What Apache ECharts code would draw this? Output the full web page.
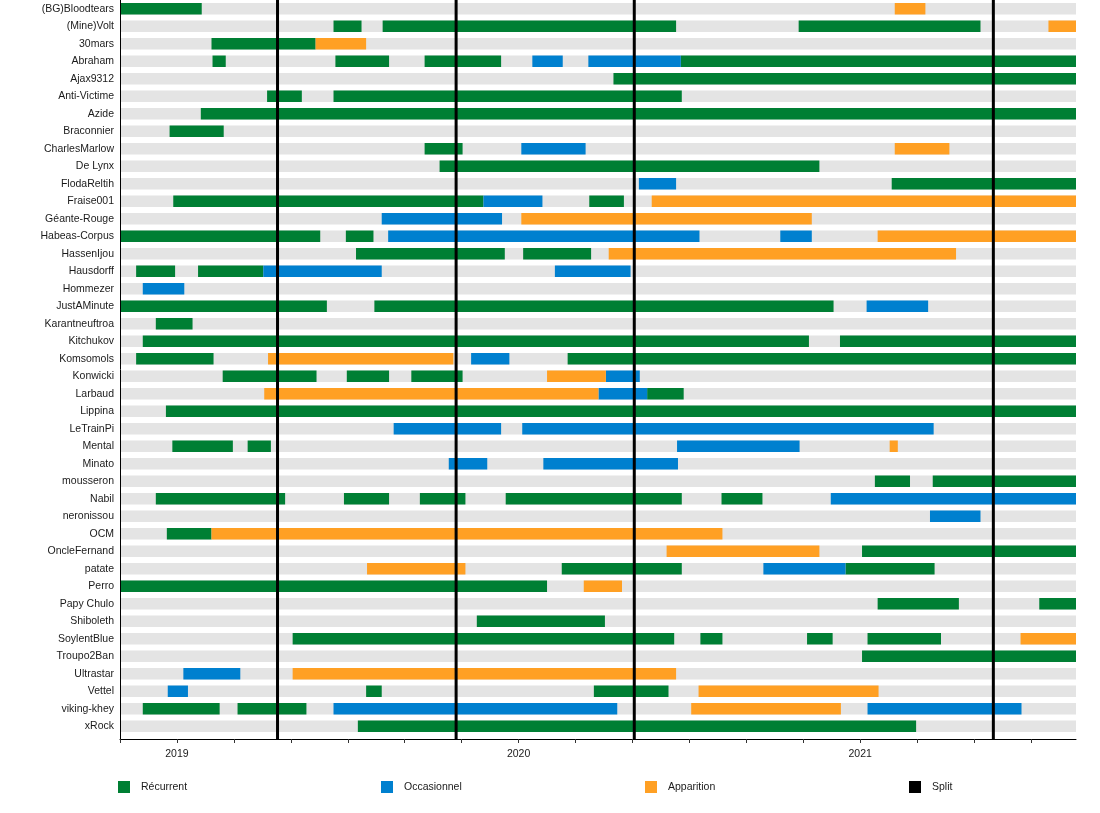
<!DOCTYPE html>
<html>
<head>
<meta charset="utf-8">
<script src="https://cdn.jsdelivr.net/npm/echarts@6/dist/echarts.min.js"></script>
<style>
  html, body { margin: 0; padding: 0; background: #fff; }
  #chart { width: 1100px; height: 813px; }
</style>
</head>
<body>
<div id="chart"></div>
<script>
// ---------------- DATA ----------------
const START = '2018-11-01';
const END = '2021-08-19';

const names = [
  '(BG)Bloodtears', '(Mine)Volt', '30mars', 'Abraham', 'Ajax9312', 'Anti-Victime', 'Azide',
  'Braconnier', 'CharlesMarlow', 'De Lynx', 'FlodaReltih', 'Fraise001', 'Géante-Rouge',
  'Habeas-Corpus', 'HassenIjou', 'Hausdorff', 'Hommezer', 'JustAMinute', 'Karantneuftroa',
  'Kitchukov', 'Komsomols', 'Konwicki', 'Larbaud', 'Lippina', 'LeTrainPi', 'Mental', 'Minato',
  'mousseron', 'Nabil', 'neronissou', 'OCM', 'OncleFernand', 'patate', 'Perro', 'Papy Chulo',
  'Shiboleth', 'SoylentBlue', 'Troupo2Ban', 'Ultrastar', 'Vettel', 'viking-khey', 'xRock'
];

const recurrent = [
  ['(BG)Bloodtears', '2018-11-01', '2019-01-28'],
  ['(Mine)Volt', '2019-06-16', '2019-07-16'],
  ['(Mine)Volt', '2019-08-08', '2020-06-17'],
  ['(Mine)Volt', '2020-10-27', '2021-05-08'],
  ['30mars', '2019-02-07', '2019-05-28'],
  ['Abraham', '2019-02-08', '2019-02-21'],
  ['Abraham', '2019-06-18', '2019-08-15'],
  ['Abraham', '2019-09-22', '2019-12-13'],
  ['Abraham', '2020-06-22', END],
  ['Ajax9312', '2020-04-11', END],
  ['Anti-Victime', '2019-04-06', '2019-05-13'],
  ['Anti-Victime', '2019-06-16', '2020-06-23'],
  ['Azide', '2019-01-27', END],
  ['Braconnier', '2018-12-24', '2019-02-19'],
  ['CharlesMarlow', '2019-09-22', '2019-11-02'],
  ['De Lynx', '2019-10-08', '2020-11-18'],
  ['FlodaReltih', '2021-02-04', END],
  ['Fraise001', '2018-12-28', '2019-11-24'],
  ['Fraise001', '2020-03-16', '2020-04-22'],
  ['Habeas-Corpus', '2018-11-01', '2019-06-02'],
  ['Habeas-Corpus', '2019-06-29', '2019-07-29'],
  ['HassenIjou', '2019-07-10', '2019-12-17'],
  ['HassenIjou', '2020-01-06', '2020-03-18'],
  ['Hausdorff', '2018-11-18', '2018-12-30'],
  ['Hausdorff', '2019-01-24', '2019-04-02'],
  ['JustAMinute', '2018-11-01', '2019-06-09'],
  ['JustAMinute', '2019-07-30', '2020-12-03'],
  ['Karantneuftroa', '2018-12-09', '2019-01-18'],
  ['Kitchukov', '2018-11-25', '2020-11-07'],
  ['Kitchukov', '2020-12-10', END],
  ['Komsomols', '2018-11-18', '2019-02-09'],
  ['Komsomols', '2020-02-22', END],
  ['Konwicki', '2019-02-18', '2019-05-29'],
  ['Konwicki', '2019-06-30', '2019-08-15'],
  ['Konwicki', '2019-09-08', '2019-11-02'],
  ['Larbaud', '2020-05-17', '2020-06-25'],
  ['Lippina', '2018-12-20', END],
  ['Mental', '2018-12-27', '2019-02-28'],
  ['Mental', '2019-03-16', '2019-04-10'],
  ['mousseron', '2021-01-17', '2021-02-22'],
  ['mousseron', '2021-03-18', END],
  ['Nabil', '2018-12-09', '2019-04-25'],
  ['Nabil', '2019-06-27', '2019-08-15'],
  ['Nabil', '2019-09-17', '2019-11-05'],
  ['Nabil', '2019-12-18', '2020-06-23'],
  ['Nabil', '2020-08-05', '2020-09-18'],
  ['OCM', '2018-12-21', '2019-02-07'],
  ['OncleFernand', '2021-01-03', END],
  ['patate', '2020-02-16', '2020-06-23'],
  ['patate', '2020-12-16', '2021-03-20'],
  ['Perro', '2018-11-01', '2020-02-01'],
  ['Papy Chulo', '2021-01-20', '2021-04-15'],
  ['Papy Chulo', '2021-07-10', END],
  ['Shiboleth', '2019-11-17', '2020-04-02'],
  ['SoylentBlue', '2019-05-03', '2020-06-15'],
  ['SoylentBlue', '2020-07-13', '2020-08-06'],
  ['SoylentBlue', '2020-11-05', '2020-12-02'],
  ['SoylentBlue', '2021-01-09', '2021-03-27'],
  ['Troupo2Ban', '2021-01-03', END],
  ['Vettel', '2019-07-21', '2019-08-07'],
  ['Vettel', '2020-03-21', '2020-06-09'],
  ['viking-khey', '2018-11-25', '2019-02-15'],
  ['viking-khey', '2019-03-05', '2019-05-18'],
  ['xRock', '2019-07-12', '2021-02-28']
];

const occasional = [
  ['Abraham', '2020-01-16', '2020-02-17'],
  ['Abraham', '2020-03-15', '2020-06-22'],
  ['CharlesMarlow', '2020-01-04', '2020-03-12'],
  ['FlodaReltih', '2020-05-08', '2020-06-17'],
  ['Fraise001', '2019-11-24', '2020-01-27'],
  ['Géante-Rouge', '2019-08-07', '2019-12-14'],
  ['Habeas-Corpus', '2019-08-14', '2020-07-12'],
  ['Habeas-Corpus', '2020-10-07', '2020-11-10'],
  ['Hausdorff', '2019-04-02', '2019-08-07'],
  ['Hausdorff', '2020-02-09', '2020-04-29'],
  ['Hommezer', '2018-11-25', '2019-01-09'],
  ['JustAMinute', '2021-01-08', '2021-03-13'],
  ['Komsomols', '2019-11-11', '2019-12-22'],
  ['Konwicki', '2020-04-03', '2020-05-09'],
  ['Larbaud', '2020-03-26', '2020-05-17'],
  ['LeTrainPi', '2019-08-20', '2019-12-13'],
  ['LeTrainPi', '2020-01-05', '2021-03-19'],
  ['Mental', '2020-06-18', '2020-10-28'],
  ['Minato', '2019-10-18', '2019-11-28'],
  ['Minato', '2020-01-28', '2020-06-19'],
  ['Nabil', '2020-11-30', END],
  ['neronissou', '2021-03-15', '2021-05-08'],
  ['patate', '2020-09-19', '2020-12-16'],
  ['Ultrastar', '2019-01-08', '2019-03-08'],
  ['Vettel', '2018-12-22', '2019-01-13'],
  ['viking-khey', '2019-06-16', '2020-04-15'],
  ['viking-khey', '2021-01-09', '2021-06-21']
];

const apparition = [
  ['(BG)Bloodtears', '2021-02-07', '2021-03-10'],
  ['(Mine)Volt', '2021-07-20', END],
  ['30mars', '2019-05-28', '2019-07-21'],
  ['CharlesMarlow', '2021-02-07', '2021-04-05'],
  ['Fraise001', '2020-05-22', END],
  ['Géante-Rouge', '2020-01-04', '2020-11-10'],
  ['Habeas-Corpus', '2021-01-20', END],
  ['HassenIjou', '2020-04-06', '2021-04-12'],
  ['Komsomols', '2019-04-07', '2019-10-23'],
  ['Konwicki', '2020-02-01', '2020-04-03'],
  ['Larbaud', '2019-04-03', '2020-03-26'],
  ['Mental', '2021-02-02', '2021-02-10'],
  ['OCM', '2019-02-07', '2020-08-06'],
  ['OncleFernand', '2020-06-07', '2020-11-18'],
  ['patate', '2019-07-22', '2019-11-05'],
  ['Perro', '2020-03-10', '2020-04-20'],
  ['SoylentBlue', '2021-06-20', END],
  ['Ultrastar', '2019-05-03', '2020-06-17'],
  ['Vettel', '2020-07-11', '2021-01-21'],
  ['viking-khey', '2020-07-03', '2020-12-11']
];

const splits = ['2019-04-17', '2019-10-26', '2020-05-03', '2021-05-22'];

const yearLabels = ['2019', '2020', '2021'];

// ---------------- HELPERS ----------------
// date -> fractional months since 2018-01-01
function M(s) {
  const [y, m, d] = s.split('-').map(Number);
  const dim = new Date(y, m, 0).getDate();
  return (y - 2018) * 12 + (m - 1) + (d - 1) / dim;
}
const xMin = M(START), xMax = M(END);
const yearVals = yearLabels.map(y => M(y + '-01-01'));
const tickVals = [];
for (let v = xMin; v <= xMax + 1e-9; v += 2) tickVals.push(v);

const FONT = 'Liberation Sans, Arial, Helvetica, sans-serif';
const COLORS = { rec: '#007f34', occ: '#0080cf', app: '#ffa024', bg: '#e4e4e4', split: '#000000' };

function toData(arr) { return arr.map(r => [M(r[1]), M(r[2]), r[0]]); }

function barRender(params, api) {
  const s = api.coord([api.value(0), api.value(2)]);
  const e = api.coord([api.value(1), api.value(2)]);
  const h = api.size([0, 1])[1] * 0.655;
  return {
    type: 'rect',
    shape: echarts.graphic.clipRectByRect(
      { x: s[0], y: s[1] - h / 2, width: e[0] - s[0], height: h },
      { x: params.coordSys.x, y: params.coordSys.y, width: params.coordSys.width, height: params.coordSys.height }
    ),
    style: { fill: api.visual('color') }
  };
}

function splitRender(params, api) {
  const a = api.coord([api.value(0), 0]);
  const b = api.coord([api.value(0), 1]);
  return {
    type: 'line',
    shape: { x1: a[0], y1: a[1], x2: b[0], y2: b[1] },
    style: { stroke: '#000', lineWidth: 3 }
  };
}

const chart = echarts.init(document.getElementById('chart'), null, { renderer: 'canvas' });

const legendBase = (name, left) => ({
  data: [{ name: name, icon: 'rect' }],
  left: left, top: 781, padding: 0,
  itemWidth: 12, itemHeight: 12, selectedMode: false,
  textStyle: { fontFamily: FONT, fontSize: 10.5, color: '#1a1a1a', padding: [0, 0, 0, 6] }
});

chart.setOption({
  animation: false,
  backgroundColor: '#ffffff',
  textStyle: { fontFamily: FONT },
  legend: [
    legendBase('Récurrent', 118),
    legendBase('Occasionnel', 381),
    legendBase('Apparition', 645),
    legendBase('Split', 909)
  ],
  grid: [
    { left: 120, right: 24, top: -2, height: 737, containLabel: false },
    { left: 120, right: 24, top: 0, height: 739, containLabel: false }
  ],
  xAxis: [
    {
      gridIndex: 0, type: 'value', min: xMin, max: xMax, show: false
    },
    {
      gridIndex: 1, type: 'value', min: xMin, max: xMax, z: 10,
      axisLine: { show: true, lineStyle: { color: '#000', width: 1 } },
      axisTick: { show: true, length: 4, customValues: tickVals, lineStyle: { color: '#333' } },
      axisLabel: {
        show: true, customValues: yearVals, margin: 10,
        fontFamily: FONT, fontSize: 10.5, color: '#1a1a1a',
        formatter: v => String(2018 + Math.round(v / 12))
      },
      splitLine: { show: false }
    }
  ],
  yAxis: [
    {
      gridIndex: 0, type: 'category', data: names, inverse: true,
      axisLine: { show: false }, axisTick: { show: false },
      axisLabel: { interval: 0, margin: 6, fontFamily: FONT, fontSize: 10.5, color: '#1a1a1a' },
      splitLine: { show: false }
    },
    {
      gridIndex: 1, type: 'value', min: 0, max: 1, z: 10,
      axisLine: { show: true, lineStyle: { color: '#000', width: 1 } },
      axisTick: { show: false }, axisLabel: { show: false }, splitLine: { show: false }
    }
  ],
  series: [
    {
      name: 'background', type: 'custom', xAxisIndex: 0, yAxisIndex: 0,
      renderItem: barRender, itemStyle: { color: COLORS.bg }, silent: true,
      encode: { x: [0, 1], y: 2 },
      data: names.map(n => [xMin, xMax, n]), z: 1
    },
    {
      name: 'Récurrent', type: 'custom', xAxisIndex: 0, yAxisIndex: 0,
      renderItem: barRender, itemStyle: { color: COLORS.rec },
      encode: { x: [0, 1], y: 2 }, data: toData(recurrent), z: 2
    },
    {
      name: 'Occasionnel', type: 'custom', xAxisIndex: 0, yAxisIndex: 0,
      renderItem: barRender, itemStyle: { color: COLORS.occ },
      encode: { x: [0, 1], y: 2 }, data: toData(occasional), z: 2
    },
    {
      name: 'Apparition', type: 'custom', xAxisIndex: 0, yAxisIndex: 0,
      renderItem: barRender, itemStyle: { color: COLORS.app },
      encode: { x: [0, 1], y: 2 }, data: toData(apparition), z: 2
    },
    {
      name: 'Split', type: 'custom', xAxisIndex: 1, yAxisIndex: 1,
      renderItem: splitRender, itemStyle: { color: COLORS.split },
      encode: { x: 0 }, data: splits.map(d => [M(d)]), z: 5
    }
  ]
});
</script>
</body>
</html>
